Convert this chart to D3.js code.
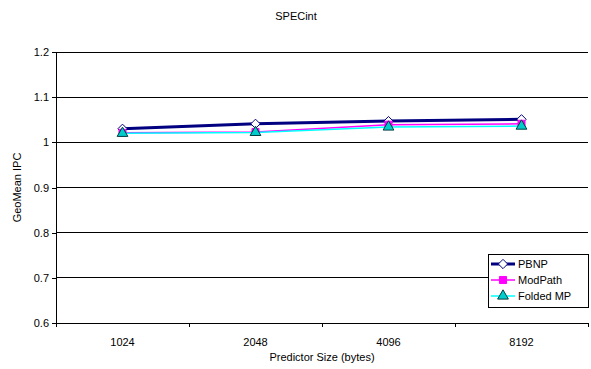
<!DOCTYPE html>
<html><head><meta charset="utf-8">
<script src="https://cdn.jsdelivr.net/npm/d3@7"></script>
<style>body{margin:0;background:#fff}text{font-family:"Liberation Sans",Arial,sans-serif}</style>
</head><body><svg id="c" width="591" height="369"></svg>
<script>
const categories = ["1024","2048","4096","8192"];
const pbnp = [1.030, 1.041, 1.047, 1.051];
const modPath = [1.021, 1.023, 1.039, 1.041];
const foldedMP = [1.020, 1.022, 1.034, 1.036];
const yTicks = [0.6,0.7,0.8,0.9,1,1.1,1.2];
const seriesNames = ["PBNP","ModPath","Folded MP"];

const svg = d3.select("#c");
const L=56,R=588,T=52,B=323;
const x = d3.scaleBand().domain(categories).range([L,R]);
const y = d3.scaleLinear().domain([0.6,1.2]).range([B,T]);

// gridlines
svg.append("g").selectAll("line").data(yTicks.slice(1)).join("line")
  .attr("x1",L).attr("x2",R).attr("y1",d=>y(d)).attr("y2",d=>y(d))
  .attr("stroke","#000").attr("stroke-width",1).attr("shape-rendering","crispEdges");

const ya = svg.append("g").attr("transform",`translate(${L},0)`)
  .call(d3.axisLeft(y).tickValues(yTicks).tickSize(4).tickFormat(d=>d3.format("")(d)));
ya.select(".domain").attr("stroke","#000").attr("shape-rendering","crispEdges");
ya.selectAll(".tick line").attr("stroke","#000").attr("shape-rendering","crispEdges");
ya.selectAll("text").attr("font-size",11).attr("fill","#000").attr("font-family","Liberation Sans, Arial, sans-serif");

const xa = svg.append("g").attr("transform",`translate(0,${B})`)
  .call(d3.axisBottom(x).tickSize(0).tickPadding(15));
xa.select(".domain").attr("stroke","#000").attr("shape-rendering","crispEdges");
xa.selectAll("text").attr("font-size",11).attr("fill","#000").attr("font-family","Liberation Sans, Arial, sans-serif");
// category boundary ticks
xa.append("g").selectAll("line").data(categories.concat(["end"])).join("line")
  .attr("x1",(d,i)=> i<categories.length ? x(d) : R).attr("x2",(d,i)=> i<categories.length ? x(d) : R)
  .attr("y1",0).attr("y2",4).attr("stroke","#000").attr("shape-rendering","crispEdges");

const cx = d=>x(d)+x.bandwidth()/2;
const line = d3.line().x((d,i)=>cx(categories[i])).y(d=>y(d));

const series = [
 {name:seriesNames[0], values:pbnp, color:"#000080", w:3, marker:"diamond", fill:"#fff", stroke:"#000080"},
 {name:seriesNames[1], values:modPath, color:"#FF00FF", w:1.5, marker:"square", fill:"#FF00FF", stroke:"#FF00FF"},
 {name:seriesNames[2], values:foldedMP, color:"#00FFFF", w:1.5, marker:"triangle", fill:"#00CCCC", stroke:"#004040"}
];
function sym(m){
  if(m==="diamond") return d3.symbol().type(d3.symbolDiamond2).size(55)();
  if(m==="square") return d3.symbol().type(d3.symbolSquare).size(50)();
  return d3.symbol().type(d3.symbolTriangle).size(50)();
}
series.forEach(s=>{
  svg.append("path").attr("d",line(s.values)).attr("fill","none").attr("stroke",s.color).attr("stroke-width",s.w);
});
series.forEach(s=>{
  svg.append("g").selectAll("path").data(s.values).join("path")
    .attr("d",sym(s.marker))
    .attr("transform",(d,i)=>`translate(${cx(categories[i])},${y(d)})`)
    .attr("fill",s.fill).attr("stroke",s.stroke).attr("stroke-width",1);
});

// legend
const lg = svg.append("g").attr("transform","translate(488,254)");
lg.append("rect").attr("width",100).attr("height",53).attr("fill","#fff").attr("stroke","#000").attr("shape-rendering","crispEdges");
series.forEach((s,i)=>{
  const yy = 10+i*16;
  lg.append("line").attr("x1",3).attr("x2",27).attr("y1",yy).attr("y2",yy).attr("stroke",s.color).attr("stroke-width",s.w);
  lg.append("path").attr("d",sym(s.marker)).attr("transform",`translate(15,${yy})`).attr("fill",s.fill).attr("stroke",s.stroke);
  lg.append("text").attr("x",30).attr("y",yy+4).attr("font-size",11).text(s.name);
});

svg.append("text").attr("x",296).attr("y",20).attr("text-anchor","middle").attr("font-size",11).text("SPECint");
svg.append("text").attr("x",(L+R)/2).attr("y",361).attr("text-anchor","middle").attr("font-size",11).text("Predictor Size (bytes)");
svg.append("text").attr("transform",`translate(21,${(T+B)/2}) rotate(-90)`).attr("text-anchor","middle").attr("font-size",11).text("GeoMean IPC");
</script></body></html>
